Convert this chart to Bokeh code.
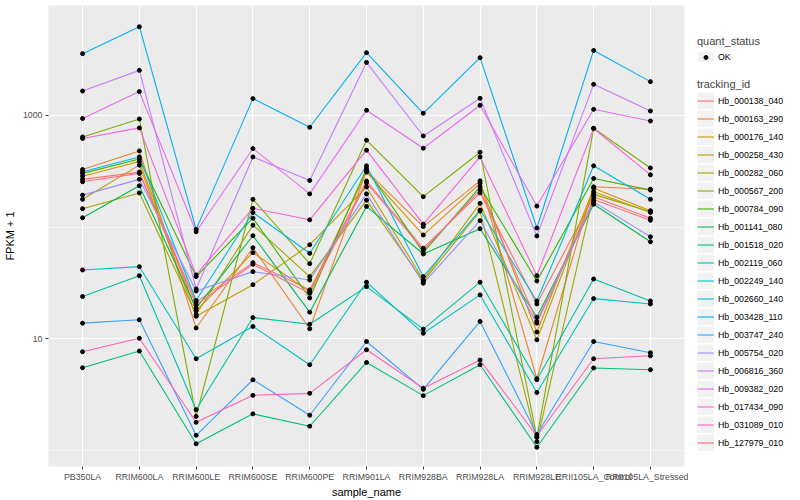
from bokeh.plotting import figure
from bokeh.models import Range1d, FixedTicker, Legend, LegendItem, ColumnDataSource
from bokeh.layouts import row
from bokeh.embed import file_html
from bokeh.resources import INLINE

samples = ["PB350LA", "RRIM600LA", "RRIM600LE", "RRIM600SE", "RRIM600PE", "RRIM901LA",
           "RRIM928BA", "RRIM928LA", "RRIM928LE", "RRII105LA_Control", "RRII105LA_Stressed"]

tracking_ids = ["Hb_000138_040", "Hb_000163_290", "Hb_000176_140", "Hb_000258_430",
                "Hb_000282_060", "Hb_000567_200", "Hb_000784_090", "Hb_001141_080",
                "Hb_001518_020", "Hb_002119_060", "Hb_002249_140", "Hb_002660_140",
                "Hb_003428_110", "Hb_003747_240", "Hb_005754_020", "Hb_006816_360",
                "Hb_009382_020", "Hb_017434_090", "Hb_031089_010", "Hb_127979_010"]

# FPKM + 1 per sample (order of `samples`)
hb_000138_040 = [267, 310, 21.3, 48.0, 27.4, 258, 64.6, 202, 20.5, 187, 120]
hb_000163_290 = [327, 480, 12.5, 65.3, 12.3, 318, 101, 259, 4.39, 229, 218]
hb_000176_140 = [285, 386, 17.8, 59.0, 26.4, 310, 84.8, 246, 11.5, 222, 140]
hb_000258_430 = [177, 358, 15.9, 30.5, 69.5, 228, 33.6, 163, 9.80, 207, 135]
hb_000282_060 = [146, 202, 16.5, 104, 36.0, 174, 32.6, 139, 1.20, 196, 137]
hb_000567_200 = [640, 927, 2.02, 177, 47.0, 598, 187, 467, 1.31, 765, 338]
hb_000784_090 = [302, 407, 36.0, 120, 23.2, 334, 59.0, 229, 32.9, 272, 214]
hb_001141_080 = [121, 234, 18.8, 83.6, 17.3, 153, 57.4, 96.6, 15.6, 160, 73.9]
hb_001518_020 = [5.51, 7.77, 1.15, 2.13, 1.65, 6.14, 3.10, 5.86, 1.07, 5.48, 5.29]
hb_002119_060 = [23.9, 36.7, 2.32, 15.5, 13.5, 29.3, 12.2, 32.1, 4.30, 34.3, 21.8]
hb_002249_140 = [41.3, 44.2, 6.63, 12.9, 5.86, 32.1, 11.2, 24.7, 3.31, 22.9, 20.5]
hb_002660_140 = [312, 424, 22.0, 135, 58.2, 353, 36.0, 142, 21.8, 353, 177]
hb_003428_110 = [3560, 6200, 95.3, 1410, 781, 3630, 1042, 3275, 98, 3802, 2000]
hb_003747_240 = [13.8, 14.8, 1.37, 4.30, 2.07, 9.46, 3.53, 14.3, 1.39, 9.46, 7.50]
hb_005754_020 = [193, 267, 26.8, 39.9, 33.6, 198, 31.4, 114, 13.8, 168, 81.9]
hb_006816_360 = [1648, 2523, 27.9, 424, 261, 2972, 653, 1419, 83.2, 1892, 1092]
hb_009382_020 = [935, 1629, 90.8, 504, 198, 1109, 507, 1228, 154, 1131, 889]
hb_017434_090 = [620, 771, 37.3, 147, 116, 487, 106, 424, 36.7, 761, 293]
hb_031089_010 = [7.66, 10.1, 1.79, 3.12, 3.25, 7.97, 3.61, 6.45, 1.35, 6.63, 7.05]
hb_127979_010 = [254, 302, 20.1, 46.4, 25.6, 249, 62.3, 214, 14.3, 176, 115]

series = [hb_000138_040, hb_000163_290, hb_000176_140, hb_000258_430, hb_000282_060,
          hb_000567_200, hb_000784_090, hb_001141_080, hb_001518_020, hb_002119_060,
          hb_002249_140, hb_002660_140, hb_003428_110, hb_003747_240, hb_005754_020,
          hb_006816_360, hb_009382_020, hb_017434_090, hb_031089_010, hb_127979_010]

palette = ["#F8766D", "#EA8331", "#D89000", "#C09B00", "#A3A500", "#7CAE00", "#39B600",
           "#00BB4E", "#00BF7D", "#00C1A3", "#00BFC4", "#00BAE0", "#00B0F6", "#35A2FF",
           "#9590FF", "#C77CFF", "#E76BF3", "#FA62DB", "#FF62BC", "#FF6C91"]

FONT = "Liberation Sans"
xs = list(range(1, len(samples) + 1))

p = figure(width=688, height=500, output_backend="svg", toolbar_location=None,
           y_axis_type="log",
           x_range=Range1d(0.4, len(samples) + 0.6), y_range=Range1d(0.72, 9600),
           min_border_left=46, min_border_right=4, min_border_top=5, min_border_bottom=33)
p.background_fill_color = "#EBEBEB"
p.border_fill_color = "white"
p.outline_line_color = None

xticker = FixedTicker(ticks=xs)
yticker = FixedTicker(ticks=[10, 1000], minor_ticks=[1, 100, 10000])

p.xgrid.ticker = xticker
p.xgrid.grid_line_color = "white"
p.xgrid.grid_line_width = 1.1
p.ygrid.ticker = yticker
p.ygrid.grid_line_color = "white"
p.ygrid.grid_line_width = 1.1
p.ygrid.minor_grid_line_color = "white"
p.ygrid.minor_grid_line_width = 0.55

p.xaxis.ticker = xticker
p.xaxis.major_label_overrides = {x: s for x, s in zip(xs, samples)}
p.yaxis.ticker = yticker
p.yaxis.major_label_overrides = {10: "10", 1000: "1000"}

for ax in (p.xaxis[0], p.yaxis[0]):
    ax.axis_line_color = None
    ax.major_tick_line_color = "#333333"
    ax.major_tick_out = 3
    ax.major_tick_in = 0
    ax.minor_tick_line_color = None
    ax.major_label_text_font = FONT
    ax.major_label_text_font_size = "8.8px"
    ax.major_label_text_color = "#4D4D4D"
    ax.major_label_standoff = 2
    ax.axis_label_text_font = FONT
    ax.axis_label_text_font_size = "11px"
    ax.axis_label_text_font_style = "normal"
    ax.axis_label_text_color = "black"

p.xaxis.axis_label = "sample_name"
p.yaxis.axis_label = "FPKM + 1"
p.xaxis.axis_label_standoff = 1
p.yaxis.axis_label_standoff = 4

for vals, col in zip(series, palette):
    src = ColumnDataSource(dict(x=xs, y=vals))
    p.line("x", "y", source=src, color=col, line_width=1.1)

for vals in series:
    p.scatter(xs, vals, size=4, color="black")

# ---- legend panel (separate figure to the right) ----
lf = figure(width=112, height=500, output_backend="svg", toolbar_location=None,
            x_range=Range1d(0, 1), y_range=Range1d(0, 1),
            x_axis_location=None, y_axis_location=None,
            min_border_left=0, min_border_right=0, min_border_top=0, min_border_bottom=0)
lf.outline_line_color = None
lf.background_fill_color = "white"
lf.xgrid.visible = False
lf.ygrid.visible = False

# legend key placeholders, kept outside the visible range of this panel
hidden = dict(x=[-5, -4], y=[-5, -4])
key_bg = lf.line(x=hidden["x"], y=hidden["y"], color="#F2F2F2", line_width=17)
key_pt = lf.scatter(x=hidden["x"], y=hidden["y"], size=4, color="black")
key_lines = [lf.line(x=hidden["x"], y=hidden["y"], color=col, line_width=1.1) for col in palette]

def style_legend(leg, gh, standoff):
    leg.border_line_color = None
    leg.background_fill_alpha = 0
    leg.padding = 0
    leg.margin = 0
    leg.spacing = 1
    leg.glyph_height = gh
    leg.glyph_width = 17
    leg.label_height = gh
    leg.label_standoff = 4
    leg.label_text_font = FONT
    leg.label_text_font_size = "8.8px"
    leg.label_text_color = "black"
    leg.title_text_font = FONT
    leg.title_text_font_size = "11px"
    leg.title_text_font_style = "normal"
    leg.title_standoff = standoff

leg1 = Legend(items=[LegendItem(label="OK", renderers=[key_bg, key_pt])],
              title="quant_status", location=(9, 404))
leg2 = Legend(items=[LegendItem(label=t, renderers=[key_bg, r])
                     for t, r in zip(tracking_ids, key_lines)],
              title="tracking_id", location=(9, 15))
style_legend(leg1, 10, 5)
style_legend(leg2, 17, 2)
lf.add_layout(leg1)
lf.add_layout(leg2)

layout = row(p, lf)
open("out.html", "w").write(file_html(layout, INLINE))
